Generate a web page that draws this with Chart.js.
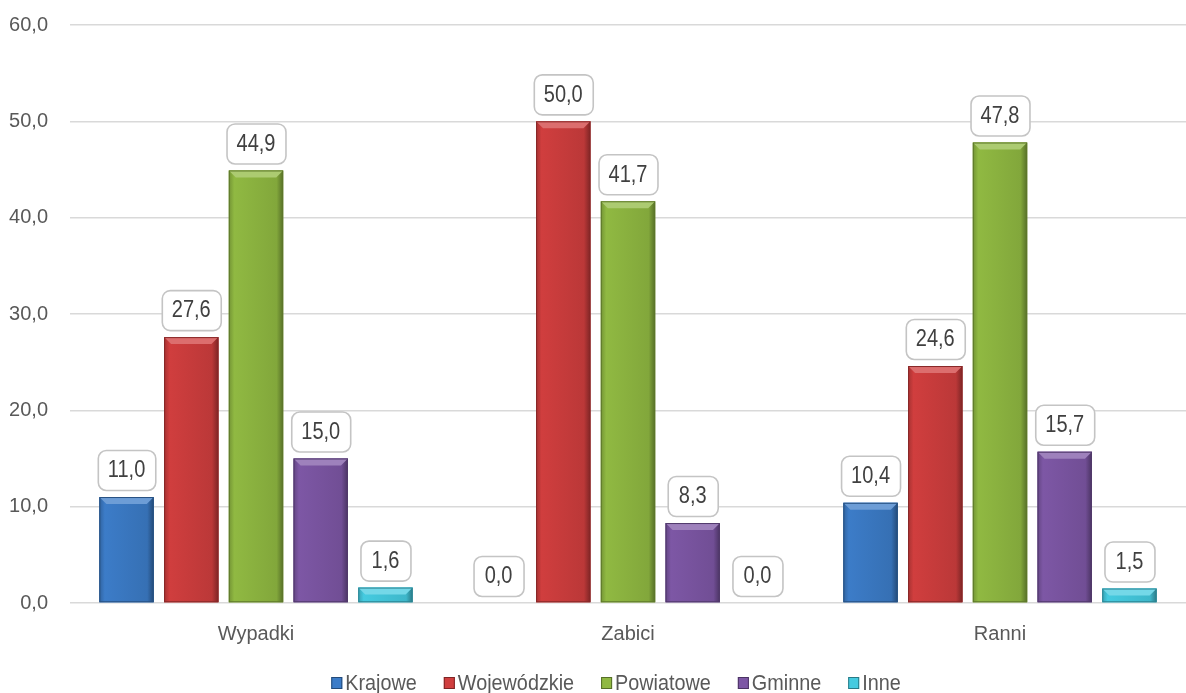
<!DOCTYPE html>
<html>
<head>
<meta charset="utf-8">
<script src="https://cdn.jsdelivr.net/npm/chart.js@4"></script>
<style>
  html, body { margin: 0; padding: 0; background: #fff; }
  #wrap { width: 1186px; height: 693px; }
</style>
</head>
<body>
<div id="wrap"><canvas id="myChart"></canvas></div>
<script>
const categories = ["Wypadki", "Zabici", "Ranni"];
const seriesNames = ["Krajowe", "Wojewódzkie", "Powiatowe", "Gminne", "Inne"];
const krajowe = [11.0, 0.0, 10.4];
const wojewodzkie = [27.6, 50.0, 24.6];
const powiatowe = [44.9, 41.7, 47.8];
const gminne = [15.0, 8.3, 15.7];
const inne = [1.6, 0.0, 1.5];
const yTicks = [0, 10, 20, 30, 40, 50, 60];

const colors = ["#3c7cc8", "#d03e3e", "#90b942", "#7d57a5", "#45cbe0"];
const FONT = "'Liberation Sans', Arial, sans-serif";

function fmt(v) { return v.toFixed(1).replace(".", ","); }

function shade(hex, amt) {
  let n = parseInt(hex.slice(1), 16);
  let r = (n >> 16) & 255, g = (n >> 8) & 255, b = n & 255;
  const f = c => Math.max(0, Math.min(255, Math.round(amt < 0 ? c * (1 + amt) : c + (255 - c) * amt)));
  return "rgb(" + f(r) + "," + f(g) + "," + f(b) + ")";
}

// bevel look + value boxes above bars
const barDecor = {
  id: "barDecor",
  afterDatasetsDraw(chart) {
    const ctx = chart.ctx;
    chart.data.datasets.forEach((ds, di) => {
      const meta = chart.getDatasetMeta(di);
      meta.data.forEach((bar, i) => {
        const v = ds.data[i];
        const w = bar.width, x0 = bar.x - w / 2, x1 = bar.x + w / 2;
        const top = bar.y, bottom = bar.base;
        const h = bottom - top;
        const base = colors[di];
        ctx.save();
        if (h > 0.5) {
          const g = ctx.createLinearGradient(x0, 0, x1, 0);
          g.addColorStop(0, shade(base, -0.2));
          g.addColorStop(0.1, base);
          g.addColorStop(0.88, shade(base, -0.1));
          g.addColorStop(1, shade(base, -0.4));
          ctx.fillStyle = g;
          ctx.fillRect(x0, top, w, h);
          // top bevel
          const bv = Math.min(7, h);
          ctx.beginPath();
          ctx.moveTo(x0, top);
          ctx.lineTo(x1, top);
          ctx.lineTo(x1 - bv, top + bv);
          ctx.lineTo(x0 + bv, top + bv);
          ctx.closePath();
          ctx.fillStyle = shade(base, 0.25);
          ctx.fill();
          ctx.strokeStyle = shade(base, -0.35);
          ctx.lineWidth = 1;
          ctx.strokeRect(x0 + 0.5, top + 0.5, w - 1, h - 1);
        }
        // label box
        const txt = fmt(v);
        ctx.font = "23px " + FONT;
        const sx = 0.87;
        const tw = ctx.measureText(txt).width * sx;
        const bw = Math.max(tw + 20, 50), bh = 40;
        const bx = bar.x - bw / 2, by = top - 7 - bh;
        ctx.beginPath();
        ctx.roundRect(bx + 0.5, by + 0.5, bw, bh, 8);
        ctx.fillStyle = "#fff";
        ctx.fill();
        ctx.strokeStyle = "#c4c4c4";
        ctx.lineWidth = 1.6;
        ctx.stroke();
        ctx.translate(bar.x, by + bh / 2 + 1);
        ctx.scale(sx, 1);
        ctx.fillStyle = "#404040";
        ctx.textAlign = "center";
        ctx.textBaseline = "middle";
        ctx.fillText(txt, 0, 0);
        ctx.restore();
      });
    });
  }
};

// legend drawn by hand (narrow text, centred like the original)
const bottomLegend = {
  id: "bottomLegend",
  afterDraw(chart) {
    const ctx = chart.ctx;
    const sx = 0.9, box = 11, gapBox = 3, gapItem = 27;
    ctx.save();
    ctx.font = "22px " + FONT;
    const widths = seriesNames.map(n => box + gapBox + ctx.measureText(n).width * sx);
    const total = widths.reduce((a, b) => a + b, 0) + gapItem * (widths.length - 1);
    let x = 616 - total / 2;
    const baseY = 690;
    seriesNames.forEach((n, i) => {
      ctx.fillStyle = colors[i];
      ctx.fillRect(x, baseY - 13, box, 12);
      ctx.strokeStyle = shade(colors[i], -0.4);
      ctx.lineWidth = 1;
      ctx.strokeRect(x + 0.5, baseY - 12.5, box - 1, 11);
      ctx.save();
      ctx.translate(x + box + gapBox, baseY);
      ctx.scale(sx, 1);
      ctx.fillStyle = "#595959";
      ctx.textBaseline = "alphabetic";
      ctx.fillText(n, 0, 0);
      ctx.restore();
      x += widths[i] + gapItem;
    });
    ctx.restore();
  }
};

new Chart("myChart", {
  type: "bar",
  data: {
    labels: categories,
    datasets: [krajowe, wojewodzkie, powiatowe, gminne, inne].map((d, i) => ({
      label: seriesNames[i],
      data: d,
      backgroundColor: colors[i],
      borderWidth: 0,
      categoryPercentage: 0.87,
      barPercentage: 0.84
    }))
  },
  options: {
    responsive: true,
    maintainAspectRatio: false,
    animation: false,
    layout: { padding: { top: 25, right: 0, left: 0, bottom: 28 } },
    plugins: {
      tooltip: { enabled: false },
      legend: { display: false }
    },
    scales: {
      x: {
        grid: { display: false, drawTicks: false },
        border: { display: false },
        ticks: { font: { family: FONT, size: 20 }, color: "#595959", padding: 19 }
      },
      y: {
        min: 0,
        max: 60,
        afterBuildTicks(axis) { axis.ticks = yTicks.map(v => ({ value: v })); },
        afterFit(axis) {
          axis.width = 70;
          axis.paddingTop = 0;
          axis.paddingBottom = 0;
        },
        grid: { color: "#d9d9d9", lineWidth: 1.5, drawTicks: false },
        border: { display: false },
        ticks: {
          font: { family: FONT, size: 20 },
          color: "#595959",
          padding: 22,
          callback: v => fmt(v)
        }
      }
    }
  },
  plugins: [barDecor, bottomLegend]
});
</script>
</body>
</html>
